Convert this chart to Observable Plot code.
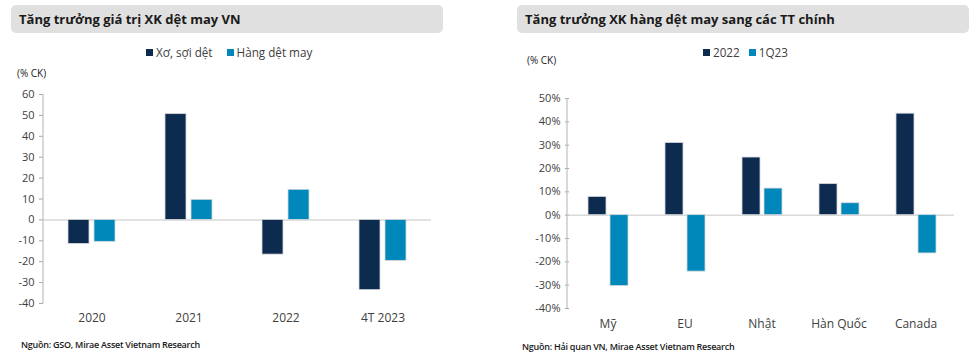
<!DOCTYPE html>
<html>
<head>
<meta charset="utf-8">
<script src="https://cdn.jsdelivr.net/npm/d3@7"></script>
<script src="https://cdn.jsdelivr.net/npm/@observablehq/plot@0.6"></script>
<style>
  html, body { margin: 0; padding: 0; background: #fff; }
  body { width: 977px; height: 359px; position: relative; overflow: hidden; font-family: "Open Sans", "Noto Sans", sans-serif; color: #404040; }
  .abs { position: absolute; }
  .titlebox { background: #e0e0e0; border-radius: 5px; height: 28px; }
  .title { font-weight: 700; font-size: 13px; color: #1a1a1a; line-height: 28px; padding-left: 8px; white-space: nowrap; }
  .legend { font-size: 11.7px; color: #404040; display: flex; align-items: center; white-space: nowrap; }
  .legend .sw { display: inline-block; width: 7px; height: 7px; margin-right: 3px; }
  .legend .item { display: flex; align-items: center; }
  .unit { font-size: 10px; color: #1a1a1a; }
  .source { font-size: 9px; font-weight: 600; color: #1a1a1a; white-space: nowrap; letter-spacing: -0.25px; }
</style>
</head>
<body>
<script>
// ---- Left chart data ----
const leftTitle = "Tăng trưởng giá trị XK dệt may VN";
const leftCategories = ["2020", "2021", "2022", "4T 2023"];
const leftSeries = ["Xơ, sợi dệt", "Hàng dệt may"];
const leftFiber = [-11.5, 50.6, -16.6, -33.6];
const leftGarment = [-10.5, 9.6, 14.4, -19.6];
const leftTicks = [-40, -30, -20, -10, 0, 10, 20, 30, 40, 50, 60];
const leftSource = "Nguồn: GSO, Mirae Asset Vietnam Research";

// ---- Right chart data ----
const rightTitle = "Tăng trưởng XK hàng dệt may sang các TT chính";
const rightCategories = ["Mỹ", "EU", "Nhật", "Hàn Quốc", "Canada"];
const rightSeries = ["2022", "1Q23"];
const right2022 = [7.8, 30.9, 24.7, 13.3, 43.5];
const right1Q23 = [-30.4, -24.2, 11.4, 5.1, -16.4];
const rightTicks = [-40, -30, -20, -10, 0, 10, 20, 30, 40, 50];
const rightSource = "Nguồn: Hải quan VN, Mirae Asset Vietnam Research";

const unitLabel = "(% CK)";
const colors = ["#0c2b4f", "#0088bb"];

function el(tag, cls, style, text) {
  const e = document.createElement(tag);
  if (cls) e.className = cls;
  Object.assign(e.style, style || {});
  if (text != null) e.textContent = text;
  document.body.appendChild(e);
  return e;
}

function legend(series, left, top, gap) {
  const d = el("div", "abs legend", {left: left + "px", top: top + "px"});
  series.forEach((s, i) => {
    const it = document.createElement("span");
    it.className = "item";
    it.style.marginRight = gap + "px";
    const sw = document.createElement("span");
    sw.className = "sw";
    sw.style.background = colors[i];
    it.appendChild(sw);
    it.appendChild(document.createTextNode(s));
    d.appendChild(it);
  });
}

function chart(cfg) {
  const data = [];
  cfg.categories.forEach((c, i) => {
    cfg.series.forEach((s, j) => data.push({cat: c, series: s, value: cfg.values[j][i]}));
  });
  const plot = Plot.plot({
    width: cfg.width,
    height: cfg.height,
    marginLeft: cfg.marginLeft,
    marginRight: cfg.marginRight,
    marginTop: cfg.marginTop,
    marginBottom: cfg.marginBottom,
    style: {fontFamily: "'Open Sans', 'Noto Sans', sans-serif", fontSize: "11px", color: "#404040", background: "transparent"},
    facet: {data, x: "cat"},
    fx: {domain: cfg.categories, padding: 0, axis: "bottom", label: null, tickSize: 0, tickPadding: cfg.xPad},
    x: {domain: cfg.series, axis: null, paddingInner: cfg.pi, paddingOuter: cfg.po},
    y: {domain: cfg.yDomain, ticks: cfg.ticks, tickFormat: cfg.fmt, label: null, tickSize: 4, tickPadding: 5},
    color: {domain: cfg.series, range: colors},
    marks: [
      Plot.ruleY([0], {stroke: "#d9d9d9", strokeWidth: 1.5}),
      Plot.barY(data, {x: "series", y: "value", fill: "series", stroke: "#d4d8dc", strokeWidth: 0.8})
    ]
  });
  d3.select(plot).selectAll("g[aria-label='fx-axis'] text, g[aria-label='fx-axis tick label'] text").style("font-size", "12px");
  d3.select(plot).selectAll("g[aria-label='y-axis'] line, g[aria-label='y-axis tick'] path").attr("stroke", "#a6a6a6");
  // vertical axis line from the y scale
  const ys = plot.scale("y");
  const r = ys.range;
  d3.select(plot).append("line")
    .attr("x1", cfg.marginLeft).attr("x2", cfg.marginLeft)
    .attr("y1", Math.min(...r)).attr("y2", Math.max(...r))
    .attr("stroke", "#bfbfbf").attr("stroke-width", 1.2);
  plot.style.position = "absolute";
  plot.style.left = cfg.left + "px";
  plot.style.top = cfg.top + "px";
  document.body.appendChild(plot);
}

// Left panel
el("div", "abs titlebox", {left: "11px", top: "5px", width: "432px"});
el("div", "abs title", {left: "11px", top: "5px"}, leftTitle);
legend(leftSeries, 146, 44, 14);
el("div", "abs unit", {left: "17px", top: "66px"}, unitLabel);
chart({
  categories: leftCategories, series: leftSeries, values: [leftFiber, leftGarment],
  width: 450, height: 250, left: 0, top: 84,
  marginLeft: 43, marginRight: 19, marginTop: 10, marginBottom: 31,
  xPad: 10, pi: 0.185, po: 0.89,
  yDomain: [-40, 60], ticks: leftTicks, fmt: d => String(d)
});
el("div", "abs source", {left: "21px", top: "338px"}, leftSource);

// Right panel
el("div", "abs titlebox", {left: "517px", top: "5px", width: "452px"});
el("div", "abs title", {left: "517px", top: "5px"}, rightTitle);
legend(rightSeries, 703, 44, 9);
el("div", "abs unit", {left: "527px", top: "53px"}, unitLabel);
chart({
  categories: rightCategories, series: rightSeries, values: [right2022, right1Q23],
  width: 480, height: 250, left: 490, top: 88,
  marginLeft: 77, marginRight: 14, marginTop: 10, marginBottom: 30,
  xPad: 11, pi: 0.2, po: 0.85,
  yDomain: [-40, 50], ticks: rightTicks, fmt: d => d + "%"
});
el("div", "abs source", {left: "522px", top: "340px"}, rightSource);
</script>
</body>
</html>
